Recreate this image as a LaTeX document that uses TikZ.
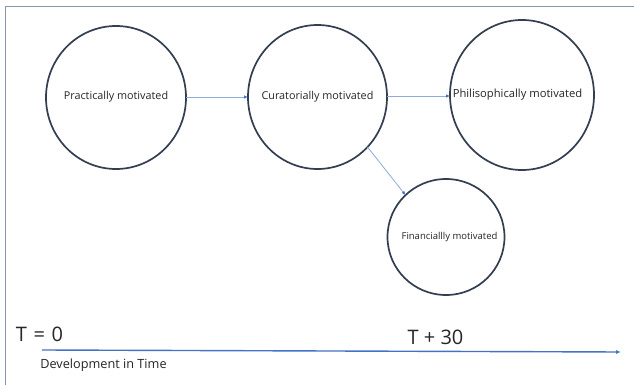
\documentclass[tikz,border=0pt]{standalone}
\usepackage{fontspec}
\setmainfont{Open Sans}
\usetikzlibrary{shapes.geometric,arrows.meta}
\definecolor{ringc}{HTML}{333F50}
\definecolor{linkc}{HTML}{8FAADC}
\definecolor{headc}{HTML}{4472C4}
\definecolor{framec}{HTML}{8497B0}
\definecolor{txtc}{HTML}{262626}
\newcommand{\zbox}[1]{\makebox[0pt]{#1}}
\tikzset{
  ring/.style={draw=ringc, line width=1.7pt, ellipse, inner sep=0pt, outer sep=0pt, text=txtc},
  link/.style={draw=linkc, line width=0.8pt, -{Latex[length=4pt,width=3.5pt,color=headc]}},
  axis/.style={draw=headc, line width=1.4pt, -{Latex[length=5pt,width=4pt,color=headc]}},
  lbl/.style={text=txtc, inner sep=0pt}
}
\begin{document}
\begin{tikzpicture}[x=1pt,y=-1pt]
\useasboundingbox (0,0) rectangle (634,385);
\fill[white] (0,0) rectangle (634,385);
\draw[framec, line width=1pt] (5,390) -- (5,7) -- (640,7);

\node[ring, minimum width=140pt, minimum height=143pt, font=\fontsize{10.8}{12}\selectfont] (prac) at (116,97.5) {\zbox{\raisebox{3.5pt}{Practically motivated}}};
\node[ring, minimum width=139pt, minimum height=144pt, font=\fontsize{10.8}{12}\selectfont] (cur) at (317.5,97) {\zbox{\raisebox{3.5pt}{Curatorially motivated}}};
\node[ring, minimum width=144pt, minimum height=150pt, font=\fontsize{11.2}{12}\selectfont] (phil) at (522,95) {\zbox{\hspace*{-9pt}Philisophically motivated}};
\node[ring, minimum width=117pt, minimum height=116pt, font=\fontsize{9.5}{11}\selectfont] (fin) at (446,237) {\zbox{\hspace*{7pt}Financiallly motivated}};

\draw[link] (prac.east |- 0,97) -- (cur.west |- 0,97);
\draw[link] (cur.east |- 0,96) -- (phil.west |- 0,96);
\draw[link] (cur.-45) -- (fin.134);

\coordinate (a0) at (42,350);
\coordinate (a1) at (621,352);
\draw[axis] (a0) -- (a1);

\node[lbl, font=\fontsize{20}{24}\selectfont] (t0) at (39.5,334) {T\,\,=\,\,0};
\node[lbl, font=\fontsize{20}{24}\selectfont] (t30) at (435.5,337.5) {T + 30};
\node[lbl, font=\fontsize{12.7}{15}\selectfont] (dev) at (103.5,365) {Development in Time};
\end{tikzpicture}
\end{document}
